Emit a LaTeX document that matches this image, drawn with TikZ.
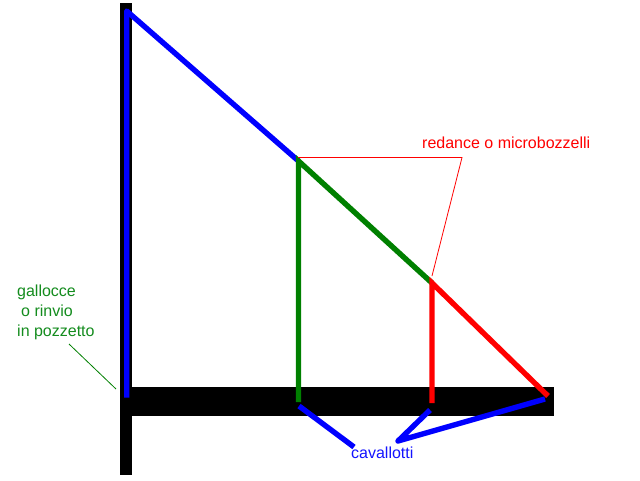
\documentclass[tikz,border=0pt]{standalone}
\usepackage{fontspec}
\setmainfont{Liberation Sans}
\definecolor{dgreen}{RGB}{0,128,0}
\definecolor{lblgreen}{RGB}{20,140,30}
\definecolor{lblblue}{RGB}{20,20,255}
\begin{document}
\begin{tikzpicture}[x=1pt,y=-1pt,
  label text/.style={inner sep=0pt,anchor=base west,font=\fontsize{16}{18}\selectfont},
  heavy/.style={line width=5.4pt},
  thin lead/.style={line width=0.8pt},
  mast/.style={fill=black,draw=none}]
\useasboundingbox (0,0) rectangle (640,480);
\fill[white] (0,0) rectangle (640,480);
\fill[mast] (120,3) rectangle (132,475);
\fill[mast] (120,387) rectangle (554,416);
\coordinate (top) at (126.7,11);
\coordinate (base) at (126.7,397.7);
\coordinate (a) at (298.5,161);
\coordinate (a0) at (298.5,402);
\coordinate (b) at (432,283);
\coordinate (b0) at (432,403);
\coordinate (c) at (548,396);
\draw[blue,heavy,line join=round] (base) -- (top) -- (a);
\draw[dgreen,heavy] (a0) -- (a) -- (b);
\draw[red,heavy] (b0) -- (b) -- (c);
\coordinate (r1) at (298,157.5);
\coordinate (r2) at (462,157.5);
\coordinate (r3) at (432,276);
\draw[red,thin lead] (r1) -- (r2) -- (r3);
\coordinate (g1) at (69,344);
\coordinate (g2) at (116,389);
\draw[dgreen,thin lead] (g1) -- (g2);
\coordinate (k1) at (299,406);
\coordinate (k2) at (354,447);
\coordinate (k3) at (430,410);
\coordinate (k4) at (398,441);
\coordinate (k5) at (545,399);
\draw[blue,heavy] (k1) -- (k2);
\draw[blue,heavy,line join=round] (k3) -- (k4) -- (k5);
\node[label text,text=lblgreen] (t1) at (17,296) {gallocce};
\node[label text,text=lblgreen] (t2) at (21,316) {o rinvio};
\node[label text,text=lblgreen] (t3) at (17,336) {in pozzetto};
\node[label text,text=red] (t4) at (422,148) {redance o microbozzelli};
\node[label text,text=lblblue] (t5) at (351,458) {cavallotti};
\end{tikzpicture}
\end{document}
